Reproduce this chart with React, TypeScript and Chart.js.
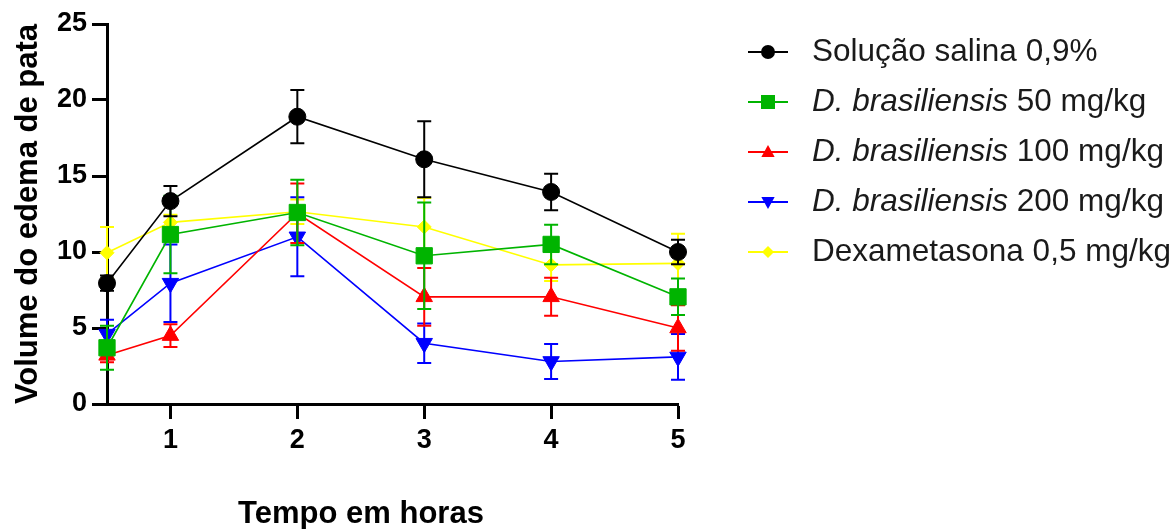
import React, { useEffect, useRef } from "react";
import { Chart, registerables } from "chart.js";

Chart.register(...registerables);

const FONT = '"Liberation Sans", Arial, Helvetica, sans-serif';

// Time points (hours)
const hours = [0.5, 1, 2, 3, 4, 5];
const xTickValues = [1, 2, 3, 4, 5];

// Series means
const salina = [7.95, 13.35, 18.9, 16.1, 13.95, 10.0];
const dbr50 = [3.7, 11.15, 12.6, 9.75, 10.5, 7.05];
const dbr100 = [3.2, 4.5, 12.55, 7.05, 7.05, 5.0];
const dbr200 = [4.6, 7.95, 11.0, 4.0, 2.8, 3.1];
const dexa = [9.95, 11.95, 12.65, 11.65, 9.15, 9.25];

// Error (SEM) values
const salinaErr = [0.5, 1.0, 1.75, 2.5, 1.2, 0.8];
const dbr50Err = [1.45, 2.55, 2.15, 3.5, 1.3, 1.2];
const dbr100Err = [0.45, 0.75, 1.95, 1.9, 1.25, 1.5];
const dbr200Err = [0.95, 2.55, 2.6, 1.3, 1.15, 1.5];
const dexaErr = [1.7, 0.5, 0.8, 1.9, 1.05, 1.95];

// Axis titles
const xTitle = "Tempo em horas";
const yTitle = "Volume do edema de pata";

// Legend labels (italic part + regular part)
const legendItalic = ["", "D. brasiliensis", "D. brasiliensis", "D. brasiliensis", ""];
const legendRegular = ["Solução salina 0,9%", " 50 mg/kg", " 100 mg/kg", " 200 mg/kg", "Dexametasona 0,5 mg/kg"];

const colors = ["#000000", "#00b400", "#ff0000", "#0000ff", "#ffff00"];
const markers = ["circle", "square", "triangle", "invtriangle", "diamond"];

function drawMarker(ctx: CanvasRenderingContext2D, kind: string, x: number, y: number, s: number) {
  ctx.beginPath();
  if (kind === "circle") {
    ctx.arc(x, y, s, 0, Math.PI * 2);
  } else if (kind === "square") {
    ctx.rect(x - s, y - s, 2 * s, 2 * s);
  } else if (kind === "triangle") {
    ctx.moveTo(x, y - s);
    ctx.lineTo(x + s * 0.95, y + s * 0.7);
    ctx.lineTo(x - s * 0.95, y + s * 0.7);
  } else if (kind === "invtriangle") {
    ctx.moveTo(x, y + s);
    ctx.lineTo(x + s * 0.95, y - s * 0.7);
    ctx.lineTo(x - s * 0.95, y - s * 0.7);
  } else {
    ctx.moveTo(x, y - s);
    ctx.lineTo(x + s, y);
    ctx.lineTo(x, y + s);
    ctx.lineTo(x - s, y);
  }
  ctx.closePath();
  ctx.fill();
}

const errorBarsPlugin = {
  id: "errorBars",
  beforeDatasetDraw(chart: any, args: any) {
    const ds = chart.data.datasets[args.index];
    const errs: number[] = ds.errors || [];
    const xs = chart.scales.x;
    const ys = chart.scales.y;
    const ctx: CanvasRenderingContext2D = chart.ctx;
    ctx.save();
    ctx.strokeStyle = ds.borderColor;
    ctx.lineWidth = 2;
    ds.data.forEach((p: any, i: number) => {
      const e = errs[i];
      if (!e) return;
      const x = xs.getPixelForValue(p.x);
      const yt = ys.getPixelForValue(p.y + e);
      const yb = ys.getPixelForValue(p.y - e);
      ctx.beginPath();
      ctx.moveTo(x, yt);
      ctx.lineTo(x, yb);
      ctx.moveTo(x - 7, yt);
      ctx.lineTo(x + 7, yt);
      ctx.moveTo(x - 7, yb);
      ctx.lineTo(x + 7, yb);
      ctx.stroke();
    });
    ctx.restore();
  },
};

const legendPlugin = {
  id: "customLegend",
  afterDraw(chart: any) {
    const ctx: CanvasRenderingContext2D = chart.ctx;
    ctx.save();
    // x-axis title
    ctx.fillStyle = "#000";
    ctx.font = `bold 31px ${FONT}`;
    ctx.textAlign = "center";
    ctx.textBaseline = "alphabetic";
    ctx.fillText(xTitle, 361, 523);

    const x0 = 748;
    const x1 = 788;
    const tx = 812;
    for (let i = 0; i < legendRegular.length; i++) {
      const y = 52 + i * 50;
      ctx.strokeStyle = colors[i];
      ctx.fillStyle = colors[i];
      ctx.lineWidth = 2;
      ctx.beginPath();
      ctx.moveTo(x0, y);
      ctx.lineTo(x1, y);
      ctx.stroke();
      const ms = markers[i] === "diamond" ? 6 : 7;
      drawMarker(ctx, markers[i], (x0 + x1) / 2, y, ms);
      ctx.fillStyle = "#1a1a1a";
      ctx.textBaseline = "middle";
      ctx.textAlign = "left";
      let x = tx;
      if (legendItalic[i]) {
        ctx.font = `italic 31.5px ${FONT}`;
        ctx.fillText(legendItalic[i], x, y);
        x += ctx.measureText(legendItalic[i]).width;
      }
      ctx.font = `31.5px ${FONT}`;
      ctx.fillText(legendRegular[i], x, y);
    }
    ctx.restore();
  },
};

function makeDataset(label: string, values: number[], errs: number[], color: string, style: string, radius: number, rotation = 0) {
  return {
    label,
    data: hours.map((h, i) => ({ x: h, y: values[i] })),
    errors: errs,
    borderColor: color,
    backgroundColor: color,
    borderWidth: 1.6,
    pointStyle: style,
    pointRadius: radius,
    pointHoverRadius: radius,
    pointRotation: rotation,
    pointBorderWidth: 1,
    pointBorderColor: color,
    pointBackgroundColor: color,
    clip: false,
    tension: 0,
  };
}

export default function App() {
  const ref = useRef<HTMLCanvasElement | null>(null);
  useEffect(() => {
    if (!ref.current) return;
    const chart = new Chart(ref.current, {
      type: "line",
      data: {
        datasets: [
          makeDataset(legendRegular[0], salina, salinaErr, colors[0], "circle", 8.5),
          makeDataset(legendItalic[1] + legendRegular[1], dbr50, dbr50Err, colors[1], "rect", 11.5),
          makeDataset(legendItalic[2] + legendRegular[2], dbr100, dbr100Err, colors[2], "triangle", 9.5),
          makeDataset(legendItalic[3] + legendRegular[3], dbr200, dbr200Err, colors[3], "triangle", 9.5, 180),
          makeDataset(legendRegular[4], dexa, dexaErr, colors[4], "rectRot", 7),
        ] as any,
      },
      options: {
        responsive: false,
        animation: false,
        events: [],
        layout: { padding: { top: 24, right: 497, left: 0, bottom: 0 } },
        plugins: {
          legend: { display: false },
          tooltip: { enabled: false },
        },
        scales: {
          x: {
            type: "linear",
            min: 0.5,
            max: 5,
            afterBuildTicks: (s: any) => {
              s.ticks = xTickValues.map((v) => ({ value: v }));
            },
            afterFit: (s: any) => {
              s.height = 125;
            },
            grid: { display: true, drawOnChartArea: false, drawTicks: true, tickLength: 15, tickWidth: 3, tickColor: "#000" },
            border: { display: true, width: 3, color: "#000" },
            ticks: { color: "#000", font: { family: FONT, size: 27, weight: "bold" }, padding: 5, maxRotation: 0, autoSkip: false },
            title: { display: false },
          },
          y: {
            type: "linear",
            min: 0,
            max: 25,
            afterFit: (s: any) => {
              s.width = 107;
            },
            grid: { display: true, drawOnChartArea: false, drawTicks: true, tickLength: 15, tickWidth: 3, tickColor: "#000" },
            border: { display: true, width: 3, color: "#000" },
            ticks: { stepSize: 5, color: "#000", font: { family: FONT, size: 27, weight: "bold" }, padding: 5 },
            title: {
              display: true,
              text: yTitle,
              color: "#000",
              font: { family: FONT, size: 31, weight: "bold", lineHeight: 1 },
              padding: { top: 13, bottom: 0 },
            },
          },
        },
      } as any,
      plugins: [errorBarsPlugin, legendPlugin],
    });
    return () => chart.destroy();
  }, []);

  return (
    <div style={{ position: "fixed", left: 0, top: 0, width: 1175, height: 529, background: "#fff" }}>
      <canvas ref={ref} width={1175} height={529} style={{ width: 1175, height: 529, display: "block" }} />
    </div>
  );
}
